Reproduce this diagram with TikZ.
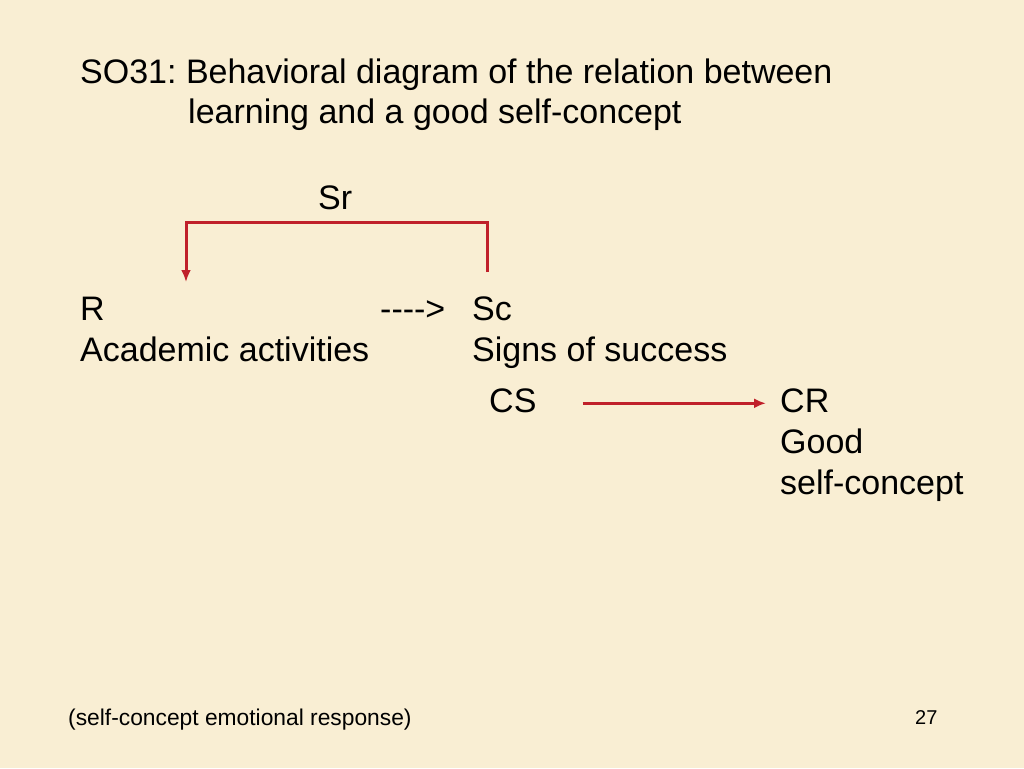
\documentclass[tikz,border=0pt]{standalone}
\usepackage{fontspec}
\setmainfont{Liberation Sans}
\usepackage{tikz}
\usetikzlibrary{arrows.meta}
\usetikzlibrary{positioning}
\definecolor{paper}{RGB}{249,238,211}
\definecolor{linkred}{RGB}{192,32,42}
\frenchspacing
\tikzset{
    txt/.style = {inner sep=0pt, anchor=base west, font=\fontsize{34}{41}\selectfont},
    smalltxt/.style = {txt, font=\fontsize{22.8}{27}\selectfont},
    link/.style = {draw=linkred, line width=3pt, -{Latex[length=12pt,width=10pt]}},
}
\begin{document}
\begin{tikzpicture}[x=1pt,y=-1pt]
                \fill[paper] (0,0) rectangle (1024,768);
                \useasboundingbox (0,0) rectangle (1024,768);
                \node(title)[txt] at (80,83) {SO31: Behavioral diagram of the relation between};
                \node(title2)[txt] at (188,123) {learning and a good self-concept};
                \node(sr)[txt] at (318,209) {Sr};
                \node(r)[txt] at (80,320) {R};
                \node(acad)[txt] at (80,361) {Academic activities};
                \node(dash)[txt] at (380,320) {-{}-{}-{}->};
                \node(sc)[txt] at (472,320) {Sc};
                \node(signs)[txt] at (472,361) {Signs of success};
                \node(cs)[txt] at (489,412) {CS};
                \node(cr)[txt] at (780,412) {CR};
                \node(good)[txt] at (780,453) {Good};
                \node(self)[txt] at (780,494) {self-concept};
                \node(note)[smalltxt] at (68,725) {(self-concept emotional response)};
                \node(page)[smalltxt, font=\fontsize{20}{24}\selectfont] at (915,724) {27};
                \coordinate (top) at (336,222);
                \coordinate (tor) at (186,282);
                \coordinate (fromsc) at (487,272);
                \coordinate (fromcs) at ([xshift=46pt,yshift=-3pt]cs.east);
                \draw[link] (fromsc) |- (top) -| (tor);
                \draw[link] (fromcs) -- ([xshift=-14pt]fromcs -| cr.west);
\end{tikzpicture}
\end{document}
